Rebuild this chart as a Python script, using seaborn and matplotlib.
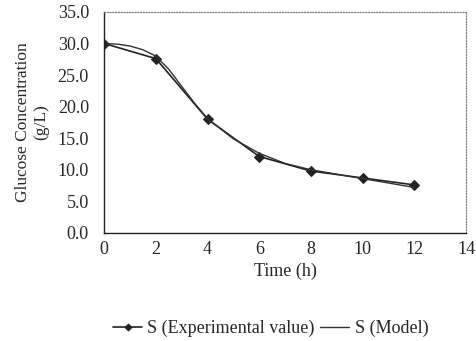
import matplotlib
matplotlib.use("Agg")
import matplotlib.pyplot as plt
import seaborn as sns
import pandas as pd

# Experimental data
t_exp = [0, 2, 4, 6, 8, 10, 12]
s_exp = [30.0, 27.6, 18.0, 12.1, 9.8, 8.7, 7.6]

# Model curve
t_model = [0, 0.5, 1, 1.5, 2, 2.5, 3, 3.5, 4, 5, 6, 7, 8, 9, 10, 11, 12]
s_model = [30.0, 29.9, 29.6, 29.0, 28.0, 25.9, 23.2, 20.5, 18.1, 14.9, 12.6,
           11.0, 10.0, 9.3, 8.6, 7.9, 7.2]

x_ticks = [0, 2, 4, 6, 8, 10, 12, 14]
y_ticks = [0, 5, 10, 15, 20, 25, 30, 35]

sns.set_style("white")
plt.rcParams["font.family"] = ["Liberation Serif", "DejaVu Serif"]

fig = plt.figure(figsize=(4.76, 3.41), dpi=100)
ax = fig.add_axes([0.219, 0.317, 0.760, 0.648])

df_exp = pd.DataFrame({"t": t_exp, "s": s_exp})
df_mod = pd.DataFrame({"t": t_model, "s": s_model})

sns.lineplot(data=df_exp, x="t", y="s", ax=ax, color="#222222", lw=1.2,
             marker="D", markersize=5, markeredgecolor="#222222",
             label="S (Experimental value)")
sns.lineplot(data=df_mod, x="t", y="s", ax=ax, color="#333333", lw=1.0,
             label="S (Model)")

ax.set_xlim(0, 14)
ax.set_ylim(0, 35)
ax.set_xticks(x_ticks)
ax.set_yticks(y_ticks)
ax.set_yticklabels([f"{v:.1f}" for v in y_ticks])
ax.tick_params(axis="both", direction="inout", length=4, width=0.8,
               labelsize=13, color="#333333")
ax.tick_params(axis="y", pad=9)
ax.tick_params(axis="x", pad=4)

for side in ["left", "bottom"]:
    ax.spines[side].set_color("#222222")
    ax.spines[side].set_linewidth(1.0)
for side in ["top", "right"]:
    ax.spines[side].set_color("#777777")
    ax.spines[side].set_linestyle((0, (1, 1.5)))
    ax.spines[side].set_linewidth(0.8)

ax.set_xlabel("Time (h)", fontsize=13, labelpad=3)
ax.set_ylabel("Glucose Concentration\n(g/L)", fontsize=12.5, labelpad=6)

ax.legend(loc="upper center", bbox_to_anchor=(0.46, -0.32), ncol=2,
          frameon=False, fontsize=13, handlelength=1.6, columnspacing=0.3,
          handletextpad=0.3, markerscale=0.7)

fig.savefig("out.png", dpi=100)
